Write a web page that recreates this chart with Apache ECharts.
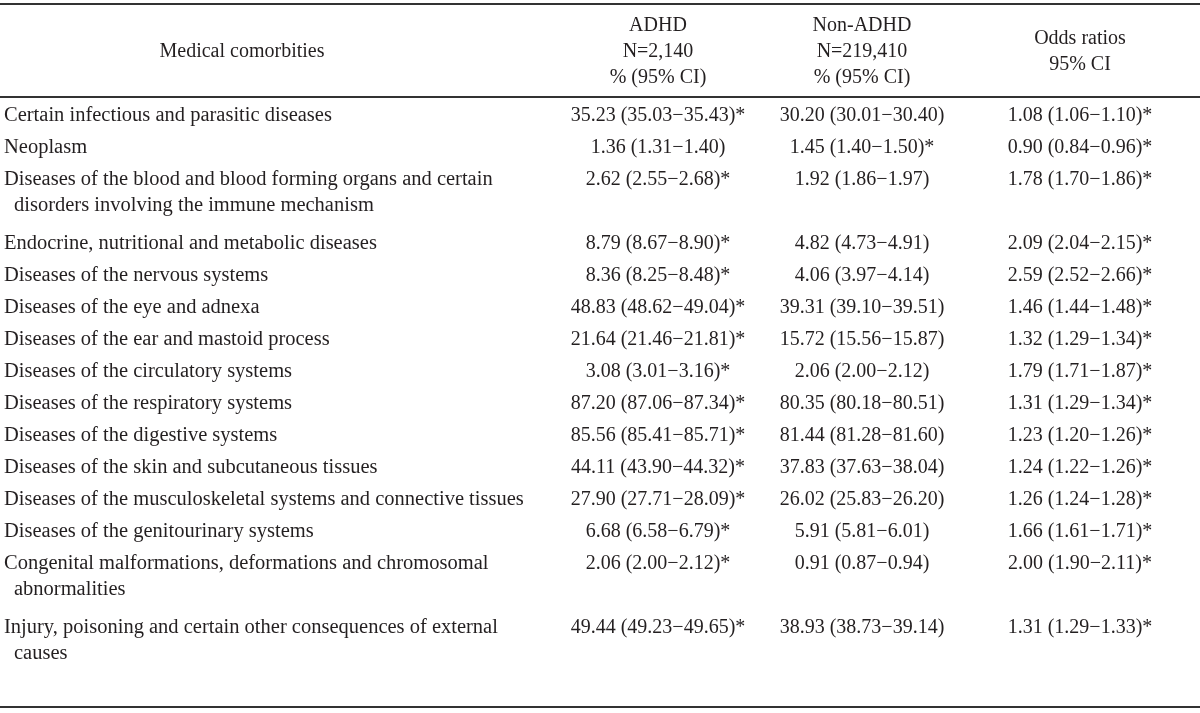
<!DOCTYPE html>
<html><head><meta charset="utf-8">
<script src="https://cdn.jsdelivr.net/npm/echarts@6/dist/echarts.min.js"></script>
<style>html,body{margin:0;padding:0;background:#fff}#c{width:1200px;height:713px}</style>
</head><body><div id="c"></div>
<script>
// ---- data ----
const categories = [
  'Certain infectious and parasitic diseases',
  'Neoplasm',
  'Diseases of the blood and blood forming organs and certain\ndisorders involving the immune mechanism',
  'Endocrine, nutritional and metabolic diseases',
  'Diseases of the nervous systems',
  'Diseases of the eye and adnexa',
  'Diseases of the ear and mastoid process',
  'Diseases of the circulatory systems',
  'Diseases of the respiratory systems',
  'Diseases of the digestive systems',
  'Diseases of the skin and subcutaneous tissues',
  'Diseases of the musculoskeletal systems and connective tissues',
  'Diseases of the genitourinary systems',
  'Congenital malformations, deformations and chromosomal\nabnormalities',
  'Injury, poisoning and certain other consequences of external\ncauses'
];
const adhdPct = [35.23, 1.36, 2.62, 8.79, 8.36, 48.83, 21.64, 3.08, 87.20, 85.56, 44.11, 27.90, 6.68, 2.06, 49.44];
const adhdLo  = [35.03, 1.31, 2.55, 8.67, 8.25, 48.62, 21.46, 3.01, 87.06, 85.41, 43.90, 27.71, 6.58, 2.00, 49.23];
const adhdHi  = [35.43, 1.40, 2.68, 8.90, 8.48, 49.04, 21.81, 3.16, 87.34, 85.71, 44.32, 28.09, 6.79, 2.12, 49.65];
const adhdSig = [1, 0, 1, 1, 1, 1, 1, 1, 1, 1, 1, 1, 1, 1, 1];
const nonPct  = [30.20, 1.45, 1.92, 4.82, 4.06, 39.31, 15.72, 2.06, 80.35, 81.44, 37.83, 26.02, 5.91, 0.91, 38.93];
const nonLo   = [30.01, 1.40, 1.86, 4.73, 3.97, 39.10, 15.56, 2.00, 80.18, 81.28, 37.63, 25.83, 5.81, 0.87, 38.73];
const nonHi   = [30.40, 1.50, 1.97, 4.91, 4.14, 39.51, 15.87, 2.12, 80.51, 81.60, 38.04, 26.20, 6.01, 0.94, 39.14];
const nonSig  = [0, 1, 0, 0, 0, 0, 0, 0, 0, 0, 0, 0, 0, 0, 0];
const orVal   = [1.08, 0.90, 1.78, 2.09, 2.59, 1.46, 1.32, 1.79, 1.31, 1.23, 1.24, 1.26, 1.66, 2.00, 1.31];
const orLo    = [1.06, 0.84, 1.70, 2.04, 2.52, 1.44, 1.29, 1.71, 1.29, 1.20, 1.22, 1.24, 1.61, 1.90, 1.29];
const orHi    = [1.10, 0.96, 1.86, 2.15, 2.66, 1.48, 1.34, 1.87, 1.34, 1.26, 1.26, 1.28, 1.71, 2.11, 1.33];
const orSig   = [1, 1, 1, 1, 1, 1, 1, 1, 1, 1, 1, 1, 1, 1, 1];
const headers = [
  'Medical comorbities',
  'ADHD\nN=2,140\n% (95% CI)',
  'Non-ADHD\nN=219,410\n% (95% CI)',
  'Odds ratios\n95% CI'
];

// ---- layout / style ----
const FONT = '"Liberation Serif", "DejaVu Serif", serif';
const FS = 20;
const FS_CAT = 20.5;
const INK = '#231f20';
const colX = [4, 658, 862, 1080];   // category left edge, then column centers
const headerX = [242, 658, 862, 1080];
const LINE_GAP = 25.5;

const fmt = (v, lo, hi, s) => v.toFixed(2) + ' (' + lo.toFixed(2) + '\u2212' + hi.toFixed(2) + ')' + (s ? '*' : '');

// row slots in line units
const unitStart = [];
let u = 0;
categories.forEach(c => { unitStart.push(u); u += c.split('\n').length; });
const totalUnits = u;

const rowData = categories.map((c, i) => [i, unitStart[i]]);

const chart = echarts.init(document.getElementById('c'), null, {renderer: 'canvas'});

function txt(text, x, y, align, fs) {
  return {
    type: 'text', x: x, y: y, silent: true,
    style: {text: text, fontSize: fs || FS, fontFamily: FONT, fill: INK, align: align, verticalAlign: 'middle'}
  };
}

const graphics = [
  {type: 'line', shape: {x1: 0, y1: 4, x2: 1200, y2: 4}, style: {stroke: '#333', lineWidth: 2}},
  {type: 'line', shape: {x1: 0, y1: 97, x2: 1200, y2: 97}, style: {stroke: '#333', lineWidth: 2}},
  {type: 'line', shape: {x1: 0, y1: 707, x2: 1200, y2: 707}, style: {stroke: '#333', lineWidth: 2}}
];
headers.forEach((h, k) => {
  graphics.push({
    type: 'text', x: headerX[k], y: 52, silent: true,
    style: {text: h, fontSize: FS, fontFamily: FONT, fill: INK, align: 'center', verticalAlign: 'middle', lineHeight: 26}
  });
});

chart.setOption({
  animation: false,
  backgroundColor: '#fff',
  grid: {left: 0, right: 0, top: 100, height: totalUnits * 32},
  xAxis: {type: 'value', min: 0, max: 1200, show: false},
  yAxis: {type: 'value', min: 0, max: totalUnits, inverse: true, show: false},
  graphic: graphics,
  series: [{
    type: 'custom',
    data: rowData,
    encode: {x: 0, y: 1},
    renderItem: function (params, api) {
      const i = params.dataIndex;
      const yc = api.coord([0, api.value(1) + 0.5])[1];
      const children = [];
      categories[i].split('\n').forEach((line, j) => {
        children.push(txt(line, colX[0] + (j > 0 ? 10 : 0), yc + j * LINE_GAP, 'left', FS_CAT));
      });
      children.push(txt(fmt(adhdPct[i], adhdLo[i], adhdHi[i], adhdSig[i]), colX[1], yc, 'center'));
      children.push(txt(fmt(nonPct[i], nonLo[i], nonHi[i], nonSig[i]), colX[2], yc, 'center'));
      children.push(txt(fmt(orVal[i], orLo[i], orHi[i], orSig[i]), colX[3], yc, 'center'));
      return {type: 'group', children: children};
    }
  }]
});
</script>
</body></html>
